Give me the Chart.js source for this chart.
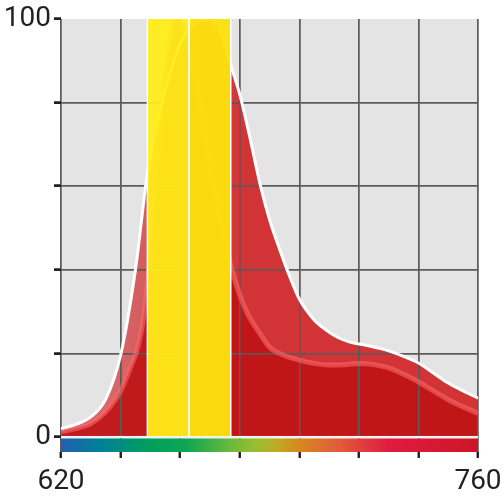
<!DOCTYPE html>
<html>
<head>
<meta charset="utf-8">
<script src="https://cdn.jsdelivr.net/npm/chart.js@4/dist/chart.umd.min.js"></script>
<style>
  html, body { margin: 0; padding: 0; background: #fff; }
  #wrap { width: 504px; height: 504px; }
</style>
</head>
<body>
<div id="wrap"><canvas id="spectrum"></canvas></div>
<script>
// wavelength axis (nm) and intensity axis (%)
const wavelengthTicks = [620, 640, 660, 680, 700, 720, 740, 760];
const intensityTicks = [0, 20, 40, 60, 80, 100];

// outer (white outlined) spectrum
const outerX = [620, 625, 630, 635, 640, 645, 649, 655, 660, 665, 670, 674, 677, 680, 683, 687, 690, 693.5, 697, 700, 705, 709, 713, 717, 722, 727, 730, 735, 740, 745, 750, 755, 760];
const outerY = [2, 3, 4.8, 9, 19.5, 40, 63, 83, 94, 99, 100, 96, 89, 82, 73, 60, 52, 44.7, 38, 33, 28, 25.6, 23.8, 22.7, 22, 21.2, 20.6, 19.3, 17.7, 15.3, 12.9, 11, 9.3];

// inner spectrum
const innerX = [620, 625, 630, 635, 640, 643, 646, 648, 650, 653, 656, 659, 662, 665, 668, 671, 674, 677, 680, 683, 687, 690, 695, 700, 705, 710, 715, 720, 725, 730, 735, 740, 745, 750, 755, 760];
const innerY = [1.2, 2, 3.2, 6, 11, 16, 22, 30, 45, 72, 92, 100, 96, 85, 72, 60, 50, 41, 34, 29, 24.5, 21.5, 19.5, 18.4, 17.6, 17.2, 17.3, 17.6, 17.3, 16.5, 15, 13.2, 11, 8.9, 7.2, 5.7];

// yellow bands (nm edges)
const bandEdges = [649, 663, 677];
const bandTop = 100;

const xMin = wavelengthTicks[0];
const xMax = wavelengthTicks[wavelengthTicks.length - 1];

function toPoints(xs, ys) {
  return xs.map((x, i) => ({ x: x, y: ys[i] }));
}

function bandPoints(from, to) {
  return [
    { x: from, y: 0 },
    { x: from, y: bandTop },
    { x: to, y: bandTop },
    { x: to, y: 0 },
  ];
}

const spectrumStops = [
  [0, "rgb(35,95,175)"],
  [0.094, "rgb(0,128,150)"],
  [0.213, "rgb(0,160,92)"],
  [0.297, "rgb(12,165,85)"],
  [0.405, "rgb(105,185,60)"],
  [0.465, "rgb(152,190,48)"],
  [0.513, "rgb(188,172,38)"],
  [0.573, "rgb(215,135,30)"],
  [0.669, "rgb(226,90,60)"],
  [0.789, "rgb(224,26,64)"],
  [1, "rgb(205,22,40)"],
];

const backdrop = {
  id: "backdrop",
  beforeDraw(chart) {
    const { ctx, scales } = chart;
    const l = scales.x.getPixelForValue(xMin);
    const r = scales.x.getPixelForValue(xMax);
    const t = scales.y.getPixelForValue(100);
    const b = scales.y.getPixelForValue(0);
    ctx.save();
    ctx.fillStyle = "#e4e4e4";
    ctx.fillRect(l, t, r - l, b - t);
    ctx.restore();
  },
  afterDatasetDraw(chart, args) {
    // grid shows through the red fills but not through the yellow bands
    if (chart.data.datasets[args.index].label !== "innerFill") return;
    chart.scales.x.drawGrid(chart.chartArea);
    chart.scales.y.drawGrid(chart.chartArea);
  },
  afterDatasetsDraw(chart) {
    const { ctx, scales, chartArea } = chart;
    const l = scales.x.getPixelForValue(xMin);
    const r = scales.x.getPixelForValue(xMax);
    const z = scales.y.getPixelForValue(0);
    ctx.save();
    ctx.fillStyle = "#f2f2f2";
    ctx.fillRect(l, z - 1, r - l, 2.5);
    const g = ctx.createLinearGradient(l, 0, r, 0);
    for (const [p, c] of spectrumStops) g.addColorStop(p, c);
    ctx.fillStyle = g;
    ctx.fillRect(l, z + 1.5, r - l, chartArea.bottom - z - 1.5);
    ctx.restore();
  },
};

function outerFillColor(c) {
  const { chart } = c;
  if (!chart.chartArea) return "rgba(207,26,28,0.85)";
  const x = chart.scales.x;
  const g = chart.ctx.createLinearGradient(x.getPixelForValue(638), 0, x.getPixelForValue(682), 0);
  g.addColorStop(0, "rgba(207,26,28,0.62)");
  g.addColorStop(1, "rgba(207,26,28,0.87)");
  return g;
}

const hideTop = {
  borderColor: (c) => (c.p0.parsed.y === c.p1.parsed.y ? "rgba(0,0,0,0)" : "#ffffff"),
};

const ink = "#231f20";

new Chart(document.getElementById("spectrum"), {
  type: "line",
  data: {
    datasets: [
      {
        label: "outerFill",
        data: toPoints(outerX, outerY),
        fill: "origin",
        backgroundColor: outerFillColor,
        borderWidth: 0,
        pointRadius: 0,
        cubicInterpolationMode: "monotone",
        order: 6,
      },
      {
        label: "innerFill",
        data: toPoints(innerX, innerY),
        fill: "origin",
        backgroundColor: "rgba(190,19,21,0.9)",
        borderWidth: 0,
        pointRadius: 0,
        cubicInterpolationMode: "monotone",
        order: 5,
      },
      {
        label: "innerLine",
        data: toPoints(innerX, innerY),
        fill: false,
        borderColor: "rgba(250,105,105,0.6)",
        borderWidth: 5,
        pointRadius: 0,
        cubicInterpolationMode: "monotone",
        order: 4,
      },
      {
        label: "outerLine",
        data: toPoints(outerX, outerY),
        fill: false,
        borderColor: "#ffffff",
        borderWidth: 3,
        pointRadius: 0,
        cubicInterpolationMode: "monotone",
        order: 3,
      },
      {
        label: "band1",
        data: bandPoints(bandEdges[0], bandEdges[1]),
        fill: "origin",
        backgroundColor: "rgba(255,236,25,0.95)",
        borderColor: "#ffffff",
        borderWidth: 1.5,
        segment: hideTop,
        pointRadius: 0,
        tension: 0,
        order: 2,
      },
      {
        label: "band2",
        data: bandPoints(bandEdges[1], bandEdges[2]),
        fill: "origin",
        backgroundColor: "rgba(252,226,14,0.96)",
        borderColor: "#ffffff",
        borderWidth: 1.5,
        segment: hideTop,
        pointRadius: 0,
        tension: 0,
        order: 1,
      },
    ],
  },
  options: {
    responsive: true,
    maintainAspectRatio: false,
    animation: false,
    layout: { padding: { top: 19, right: 26, left: 0, bottom: 0 } },
    plugins: {
      legend: { display: false },
      tooltip: { enabled: false },
    },
    scales: {
      x: {
        type: "linear",
        min: xMin,
        max: xMax,
        afterBuildTicks: (s) => {
          s.ticks = wavelengthTicks.map((v) => ({ value: v }));
        },
        afterFit: (s) => {
          s.height = 52;
          s.paddingLeft = 0;
          s.paddingRight = 0;
        },
        grid: {
          color: "#5c5c5c",
          lineWidth: 1.5,
          tickColor: ink,
          tickWidth: 2,
          tickLength: 6,
        },
        border: { display: false },
        ticks: {
          autoSkip: false,
          maxRotation: 0,
          padding: 7,
          color: ink,
          font: { family: "Roboto", size: 28 },
          callback: (v) => (v === xMin || v === xMax ? String(v) : ""),
        },
      },
      y: {
        type: "linear",
        min: -3.6,
        max: 100,
        afterBuildTicks: (s) => {
          s.ticks = intensityTicks.map((v) => ({ value: v }));
        },
        afterFit: (s) => {
          s.width = 61;
          s.paddingTop = 0;
          s.paddingBottom = 0;
        },
        grid: {
          color: (c) => (c.tick && (c.tick.value === 0 || c.tick.value === 100) ? "rgba(0,0,0,0)" : "#5c5c5c"),
          lineWidth: 1.5,
          tickColor: ink,
          tickWidth: 2.5,
          tickLength: 7,
        },
        border: { display: false },
        ticks: {
          autoSkip: false,
          padding: 3,
          color: ink,
          font: { family: "Roboto", size: 28 },
          callback: (v) => (v === 0 || v === 100 ? String(v) : ""),
        },
      },
    },
  },
  plugins: [backdrop],
});
</script>
</body>
</html>
